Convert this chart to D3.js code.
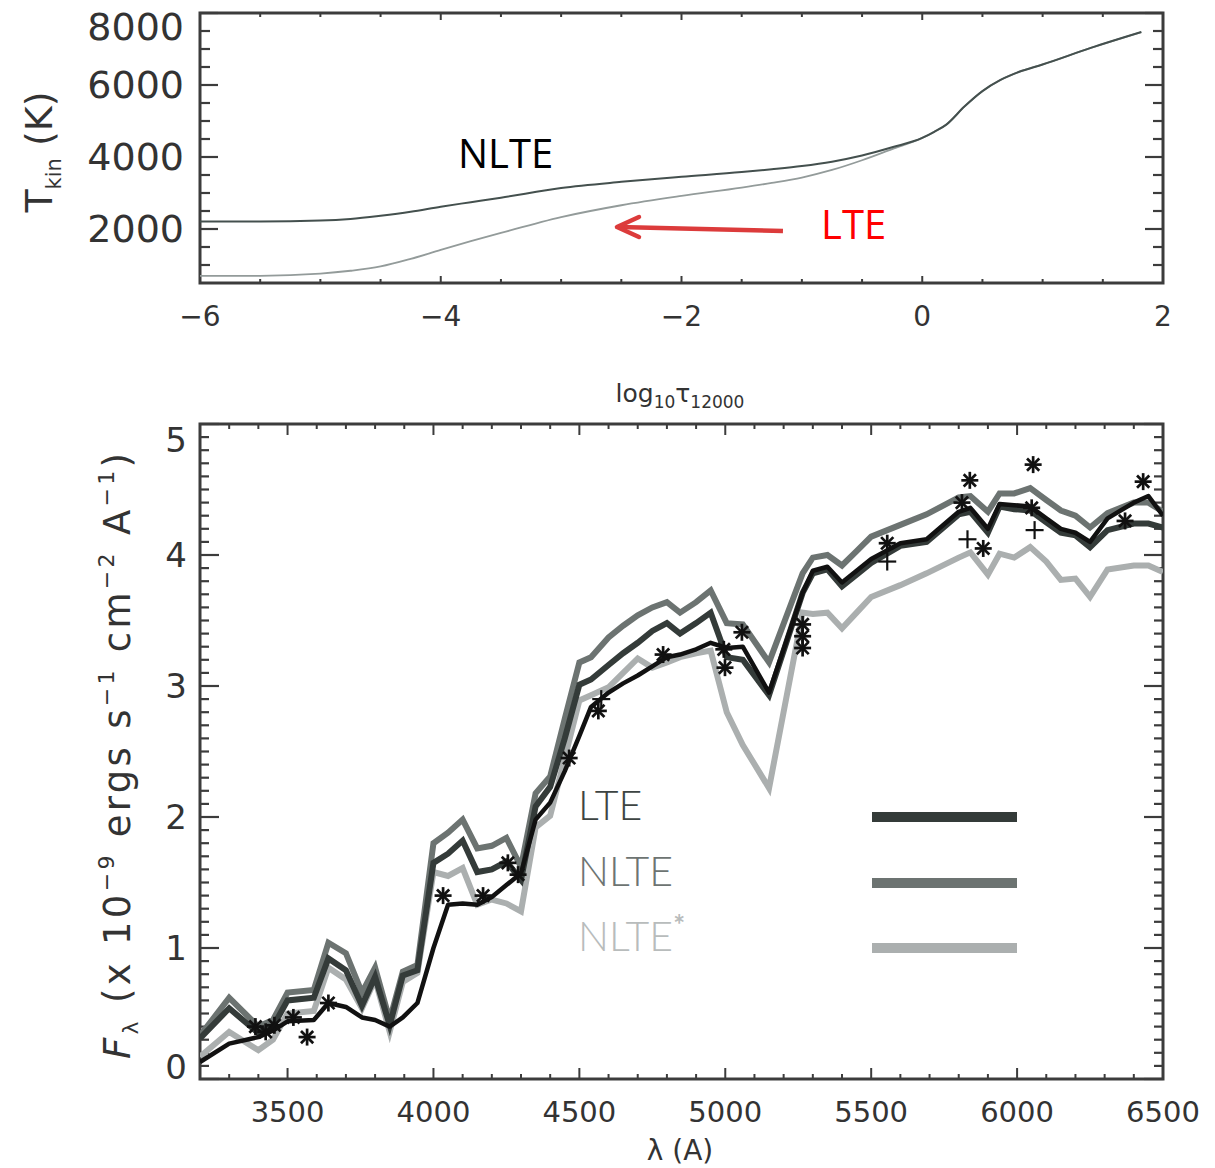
<!DOCTYPE html>
<html><head><meta charset="utf-8">
<script src="https://cdn.jsdelivr.net/npm/d3@7"></script>
<style>
html,body{margin:0;padding:0;background:#fff;}
svg{display:block;}
</style></head>
<body>
<script>
// ---------------- DATA ----------------
// Top panel: kinetic temperature vs log10 tau_12000
const logTau   = [-6, -5.5, -5, -4.75, -4.5, -4.25, -4, -3.75, -3.5, -3, -2.5, -2, -1.5, -1.25, -1, -0.75, -0.5, -0.25, 0, 0.1, 0.2, 0.35, 0.5, 0.65, 0.8, 1.0, 1.4, 1.82];
const tempNLTE = [2210, 2210, 2235, 2280, 2370, 2480, 2620, 2745, 2870, 3140, 3310, 3450, 3580, 3660, 3750, 3870, 4040, 4270, 4530, 4700, 4900, 5400, 5830, 6140, 6360, 6570, 7030, 7470];
const tempLTE  = [700, 700, 760, 840, 960, 1170, 1420, 1660, 1890, 2330, 2660, 2920, 3150, 3280, 3430, 3640, 3910, 4220, 4530, 4700, 4900, 5400, 5830, 6140, 6360, 6570, 7030, 7470];
const topXTicks = [-6, -4, -2, 0, 2];
const topYTicks = [2000, 4000, 6000, 8000];

// Bottom panel: flux vs wavelength
const wavelength = [3200, 3300, 3400, 3450, 3500, 3590, 3640, 3700, 3755, 3800, 3850, 3895, 3945, 4000, 4050, 4100, 4150, 4200, 4250, 4300, 4350, 4400, 4450, 4500, 4540, 4600, 4650, 4700, 4750, 4800, 4845, 4900, 4950, 5005, 5060, 5150, 5265, 5300, 5350, 5400, 5450, 5500, 5600, 5690, 5800, 5840, 5900, 5940, 5990, 6045, 6100, 6150, 6200, 6250, 6310, 6400, 6450, 6500];
const fluxLTE = [0.31, 0.54, 0.35, 0.40, 0.60, 0.62, 0.92, 0.83, 0.56, 0.78, 0.41, 0.79, 0.83, 1.65, 1.72, 1.82, 1.58, 1.60, 1.66, 1.52, 2.08, 2.23, 2.60, 3.01, 3.05, 3.16, 3.25, 3.33, 3.42, 3.48, 3.40, 3.48, 3.56, 3.22, 3.20, 2.93, 3.71, 3.86, 3.89, 3.76, 3.85, 3.94, 4.07, 4.10, 4.31, 4.33, 4.17, 4.37, 4.35, 4.34, 4.25, 4.17, 4.15, 4.06, 4.19, 4.24, 4.24, 4.21];
const fluxNLTE = [0.33, 0.62, 0.40, 0.45, 0.66, 0.68, 1.04, 0.96, 0.66, 0.85, 0.45, 0.82, 0.87, 1.80, 1.88, 1.98, 1.76, 1.78, 1.84, 1.62, 2.18, 2.31, 2.75, 3.18, 3.22, 3.37, 3.46, 3.54, 3.60, 3.64, 3.56, 3.64, 3.73, 3.48, 3.47, 3.18, 3.86, 3.98, 4.00, 3.92, 4.03, 4.14, 4.23, 4.31, 4.44, 4.45, 4.33, 4.47, 4.47, 4.51, 4.42, 4.34, 4.30, 4.21, 4.32, 4.40, 4.40, 4.33];
const fluxNLTEstar = [0.17, 0.36, 0.22, 0.30, 0.50, 0.52, 0.85, 0.76, 0.54, 0.76, 0.36, 0.74, 0.81, 1.58, 1.55, 1.61, 1.33, 1.37, 1.34, 1.28, 1.92, 2.01, 2.45, 2.89, 2.93, 2.99, 3.10, 3.21, 3.14, 3.18, 3.22, 3.25, 3.27, 2.80, 2.55, 2.22, 3.56, 3.55, 3.56, 3.44, 3.56, 3.68, 3.77, 3.86, 3.98, 4.02, 3.85, 4.01, 3.98, 4.06, 3.95, 3.81, 3.82, 3.68, 3.89, 3.92, 3.92, 3.87];
const fluxObserved = [0.13, 0.27, 0.32, 0.37, 0.44, 0.45, 0.58, 0.55, 0.47, 0.45, 0.40, 0.47, 0.58, 1.00, 1.33, 1.34, 1.33, 1.39, 1.48, 1.57, 1.98, 2.11, 2.35, 2.62, 2.84, 2.95, 3.02, 3.08, 3.15, 3.22, 3.24, 3.28, 3.33, 3.29, 3.30, 2.95, 3.71, 3.88, 3.91, 3.79, 3.88, 3.97, 4.09, 4.12, 4.33, 4.36, 4.20, 4.39, 4.38, 4.37, 4.28, 4.20, 4.17, 4.10, 4.28, 4.40, 4.45, 4.30];
// photometric points (asterisks) and plus marks
const starWave = [3390, 3425, 3455, 3520, 3567, 3640, 4033, 4170, 4255, 4290, 4465, 4565, 4787, 4999, 4995, 5057, 5265, 5265, 5265, 5555, 5811, 5838, 5884, 6050, 6055, 6370, 6432];
const starFlux = [0.40, 0.36, 0.41, 0.47, 0.32, 0.58, 1.40, 1.40, 1.65, 1.56, 2.45, 2.81, 3.24, 3.14, 3.28, 3.41, 3.47, 3.38, 3.29, 4.09, 4.40, 4.57, 4.05, 4.36, 4.69, 4.26, 4.56];
const plusWave = [4575, 5555, 5830, 6060];
const plusFlux = [2.90, 3.95, 4.12, 4.19];
const bottomXTicks = [3500, 4000, 4500, 5000, 5500, 6000, 6500];
const bottomYTicks = [0, 1, 2, 3, 4, 5];
const legendNames = ["LTE", "NLTE", "NLTE*"];

// ---------------- STYLE ----------------
const W = 1215, H = 1168;
const frameCol = "#3c3c3c";
const colLTE = "#343b39", colNLTE = "#6c7371", colStar = "#abafaf", colObs = "#111";

const svg = d3.select("body").append("svg").attr("width", W).attr("height", H)
  .style("font-family", "'DejaVu Sans', sans-serif");

// ---------------- TOP PANEL ----------------
const xT = d3.scaleLinear().domain([-6, 2]).range([200, 1163]);
const yT = d3.scaleLinear().domain([500, 8000]).range([283, 13]);
const gT = svg.append("g");

function near(arr, v) { return arr.some(a => Math.abs(a - v) < 1e-6); }
function drawTicks(g, xs, ys, opt) {
  const [x0, x1] = xs.range(), [yb, yt] = ys.range();
  opt.yMinor.forEach(v => {
    const L = near(opt.yMajor, v) ? opt.yMajLen : opt.yMinLen;
    g.append("line").attr("x1", x0).attr("x2", x0 + L).attr("y1", ys(v)).attr("y2", ys(v))
      .attr("stroke", frameCol).attr("stroke-width", 2.2);
    g.append("line").attr("x1", x1).attr("x2", x1 - L).attr("y1", ys(v)).attr("y2", ys(v))
      .attr("stroke", frameCol).attr("stroke-width", 2.2);
  });
  opt.xMinor.forEach(v => {
    const Lb = near(opt.xMajor, v) ? opt.xMajLen : opt.xMinLen;
    g.append("line").attr("x1", xs(v)).attr("x2", xs(v)).attr("y1", yb).attr("y2", yb - Lb)
      .attr("stroke", frameCol).attr("stroke-width", 2);
    g.append("line").attr("x1", xs(v)).attr("x2", xs(v)).attr("y1", yt).attr("y2", yt + Lb)
      .attr("stroke", frameCol).attr("stroke-width", 2);
  });
  g.append("rect").attr("x", x0).attr("y", yt).attr("width", x1 - x0).attr("height", yb - yt)
    .attr("fill", "none").attr("stroke", frameCol).attr("stroke-width", 3);
}

drawTicks(gT, xT, yT, {
  yMajor: topYTicks, yMinor: d3.range(1000, 8001, 500), yMajLen: 18, yMinLen: 10,
  xMajor: topXTicks, xMinor: d3.range(-5.5, 2, 0.5), xMajLen: 7, xMinLen: 4
});

const lineT = d3.line().curve(d3.curveMonotoneX).x(d => xT(d[0])).y(d => yT(d[1]));
gT.append("path").attr("d", lineT(logTau.map((t, i) => [t, tempLTE[i]])))
  .attr("fill", "none").attr("stroke", "#939b9a").attr("stroke-width", 1.8);
gT.append("path").attr("d", lineT(logTau.map((t, i) => [t, tempNLTE[i]])))
  .attr("fill", "none").attr("stroke", "#44504e").attr("stroke-width", 2);

topYTicks.forEach(v => {
  gT.append("text").attr("x", 184).attr("y", v === 8000 ? 27 : yT(v))
    .attr("text-anchor", "end").attr("dominant-baseline", "central")
    .attr("font-size", 38).attr("fill", "#333").text(v);
});
topXTicks.forEach(v => {
  gT.append("text").attr("x", xT(v)).attr("y", 316)
    .attr("text-anchor", "middle").attr("dominant-baseline", "central")
    .attr("font-size", 28).attr("fill", "#333").text(v < 0 ? "\u2212" + Math.abs(v) : v);
});
const tT = gT.append("text").attr("transform", "translate(52,152) rotate(-90)")
  .attr("text-anchor", "middle").attr("font-size", 38).attr("fill", "#333");
tT.append("tspan").text("T");
tT.append("tspan").attr("font-size", 21).attr("dy", 9).text("kin");
tT.append("tspan").attr("dy", -9).text(" (K)");
const xtT = gT.append("text").attr("x", 680).attr("y", 402).attr("text-anchor", "middle")
  .attr("font-size", 25).attr("fill", "#333");
xtT.append("tspan").text("log");
xtT.append("tspan").attr("font-size", 17).attr("dy", 6).text("10");
xtT.append("tspan").attr("dy", -6).text("\u03c4");
xtT.append("tspan").attr("font-size", 17).attr("dy", 6).text("12000");

gT.append("text").attr("x", xT(-3.857)).attr("y", yT(3694)).attr("font-family", "'Open Sans', sans-serif")
  .attr("font-size", 40).attr("fill", "#000").text("NLTE");
gT.append("text").attr("x", xT(-0.841)).attr("y", yT(1722)).attr("font-family", "'Open Sans', sans-serif")
  .attr("font-size", 40).attr("fill", "#ff0000").text("LTE");
const arrowFrom = [-1.157, 1944], arrowTo = [-2.536, 2056];
const ax0 = xT(arrowFrom[0]), ay0 = yT(arrowFrom[1]), ax1 = xT(arrowTo[0]), ay1 = yT(arrowTo[1]);
gT.append("line").attr("x1", ax0).attr("y1", ay0).attr("x2", ax1 + 2).attr("y2", ay1)
  .attr("stroke", "#dc3b3b").attr("stroke-width", 4.5).attr("stroke-linecap", "butt");
gT.append("polyline").attr("points", `${ax1 + 22},${ay1 - 10} ${ax1},${ay1} ${ax1 + 22},${ay1 + 10}`)
  .attr("fill", "none").attr("stroke", "#dc3b3b").attr("stroke-width", 4.5)
  .attr("stroke-linecap", "round").attr("stroke-linejoin", "round");

// ---------------- BOTTOM PANEL ----------------
const xB = d3.scaleLinear().domain([3200, 6500]).range([200, 1163]);
const yB = d3.scaleLinear().domain([0, 5]).range([1079, 424]);
const gB = svg.append("g");

drawTicks(gB, xB, yB, {
  yMajor: bottomYTicks, yMinor: d3.range(0, 51).map(i => i / 10), yMajLen: 19, yMinLen: 9,
  xMajor: bottomXTicks, xMinor: d3.range(3300, 6501, 100), xMajLen: 11, xMinLen: 5
});
const lineB = d3.line().x(d => xB(d[0])).y(d => yB(d[1])).curve(d3.curveLinear);
function series(vals) { return wavelength.map((w, i) => [w, vals[i]]); }

svg.append("defs").append("clipPath").attr("id", "clipB").append("rect")
  .attr("x", 200).attr("y", 424).attr("width", 963).attr("height", 655);
const plotB = gB.append("g").attr("clip-path", "url(#clipB)");

plotB.append("path").attr("d", lineB(series(fluxNLTEstar))).attr("fill", "none")
  .attr("stroke", colStar).attr("stroke-width", 6).attr("stroke-linejoin", "miter");
plotB.append("path").attr("d", lineB(series(fluxNLTE))).attr("fill", "none")
  .attr("stroke", colNLTE).attr("stroke-width", 6).attr("stroke-linejoin", "miter");
plotB.append("path").attr("d", lineB(series(fluxLTE))).attr("fill", "none")
  .attr("stroke", colLTE).attr("stroke-width", 6).attr("stroke-linejoin", "miter");
plotB.append("path").attr("d", lineB(series(fluxObserved))).attr("fill", "none")
  .attr("stroke", colObs).attr("stroke-width", 4.5).attr("stroke-linejoin", "round");

const r = 8.5;
starWave.forEach((w, i) => {
  const cx = xB(w), cy = yB(starFlux[i]);
  const g = plotB.append("g").attr("stroke", "#111").attr("stroke-width", 2.7);
  [[r, 0], [0, r], [r * 0.72, r * 0.72], [r * 0.72, -r * 0.72]].forEach(([dx, dy]) => {
    g.append("line").attr("x1", cx - dx).attr("y1", cy - dy).attr("x2", cx + dx).attr("y2", cy + dy);
  });
});
plusWave.forEach((w, i) => {
  const cx = xB(w), cy = yB(plusFlux[i]);
  const g = plotB.append("g").attr("stroke", "#111").attr("stroke-width", 2.2);
  g.append("line").attr("x1", cx - 9).attr("x2", cx + 9).attr("y1", cy).attr("y2", cy);
  g.append("line").attr("x1", cx).attr("x2", cx).attr("y1", cy - 9).attr("y2", cy + 9);
});

bottomYTicks.forEach(v => {
  let yy = yB(v);
  if (v === 5) yy = 440;
  if (v === 0) yy = 1067;
  gB.append("text").attr("x", 187).attr("y", yy).attr("text-anchor", "end")
    .attr("dominant-baseline", "central").attr("font-size", 34).attr("fill", "#333").text(v);
});
bottomXTicks.forEach(v => {
  gB.append("text").attr("x", xB(v)).attr("y", 1112).attr("text-anchor", "middle")
    .attr("dominant-baseline", "central").attr("font-size", 29).attr("fill", "#333").text(v);
});
gB.append("text").attr("x", 680).attr("y", 1150).attr("text-anchor", "middle")
  .attr("dominant-baseline", "central").attr("font-size", 28).attr("fill", "#333").text("\u03bb (A)");

const yt = gB.append("text").attr("transform", "translate(130,756) rotate(-90)")
  .attr("text-anchor", "middle").attr("font-size", 37).attr("fill", "#333")
  .attr("textLength", 606).attr("lengthAdjust", "spacing");
yt.append("tspan").attr("font-style", "italic").text("F");
yt.append("tspan").attr("font-size", 22).attr("dy", 8).text("\u03bb");
yt.append("tspan").attr("dy", -8).text(" (x 10");
yt.append("tspan").attr("font-size", 22).attr("dy", -16).text("\u22129");
yt.append("tspan").attr("dy", 16).text(" ergs s");
yt.append("tspan").attr("font-size", 22).attr("dy", -16).text("\u22121");
yt.append("tspan").attr("dy", 16).text(" cm");
yt.append("tspan").attr("font-size", 22).attr("dy", -16).text("\u22122");
yt.append("tspan").attr("dy", 16).text(" A");
yt.append("tspan").attr("font-size", 22).attr("dy", -16).text("\u22121");
yt.append("tspan").attr("dy", 16).text(")");

const legCols = [colLTE, colNLTE, colStar];
const legTextCols = ["#3d4442", "#6d7472", "#b8bcbc"];
const legY = [817, 883, 948];
legendNames.forEach((name, i) => {
  const t = gB.append("text").attr("x", 578).attr("y", legY[i] + 3)
    .attr("font-family", "Lato, sans-serif").attr("font-weight", 300)
    .attr("font-size", 41).attr("fill", legTextCols[i]);
  if (name.endsWith("*")) {
    t.append("tspan").text(name.slice(0, -1));
    t.append("tspan").attr("font-size", 28).attr("font-weight", 700).attr("dy", -16).text("*");
  } else t.text(name);
  gB.append("line").attr("x1", 872).attr("x2", 1017).attr("y1", legY[i]).attr("y2", legY[i])
    .attr("stroke", legCols[i]).attr("stroke-width", 10);
});
</script>
</body></html>
